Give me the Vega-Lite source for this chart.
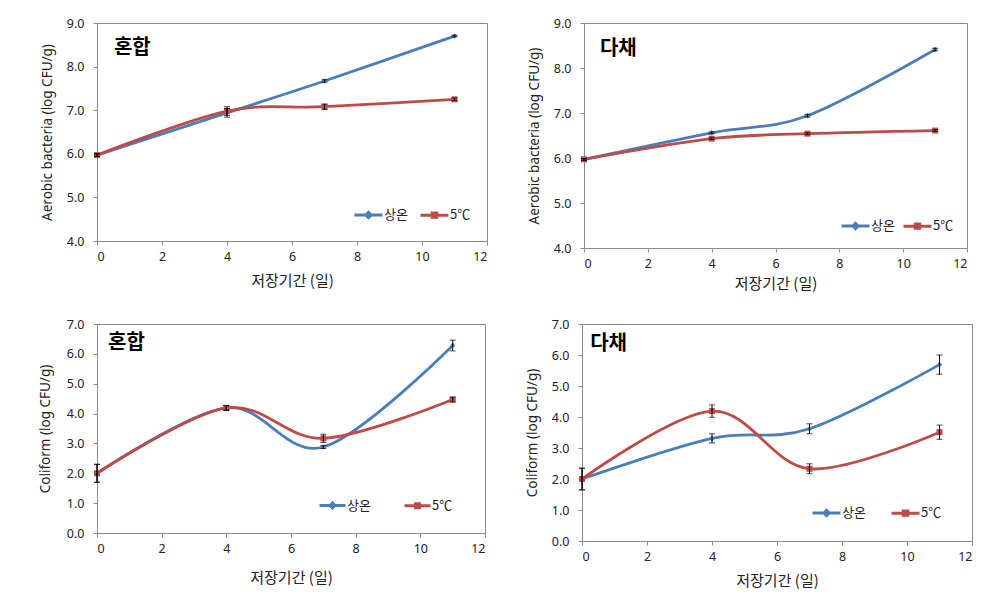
{
  "$schema": "https://vega.github.io/schema/vega-lite/v6.json",
  "background": "white",
  "padding": {"left": 37, "top": 16, "right": 5, "bottom": 5},
  "config": {
    "font": "Noto Sans",
    "view": {"stroke": "#8a8a8a", "strokeWidth": 1},
    "axis": {
      "grid": false,
      "domainColor": "#8a8a8a",
      "tickColor": "#8a8a8a",
      "tickSize": 4,
      "labelFont": "Noto Sans",
      "labelFontSize": 12.5,
      "labelColor": "#222222",
      "labelOverlap": false,
      "titleFont": "Noto Sans CJK KR",
      "titleFontWeight": "normal",
      "titleColor": "#222222"
    },
    "axisX": {"labelPadding": 5},
    "axisY": {"labelPadding": 9},
    "legend": {"labelFont": "Noto Sans CJK KR", "labelFontSize": 13, "labelColor": "#222222"}
  },
  "datasets": {
    "d": [
      {"p": "A", "series": "상온", "day": 0, "v": 5.97, "err": 0.03},
      {"p": "A", "series": "상온", "day": 4, "v": 6.94, "err": 0.1},
      {"p": "A", "series": "상온", "day": 7, "v": 7.67, "err": 0.03},
      {"p": "A", "series": "상온", "day": 11, "v": 8.7, "err": 0.02},
      {"p": "A", "series": "5℃", "day": 0, "v": 5.97, "err": 0.03},
      {"p": "A", "series": "5℃", "day": 4, "v": 6.98, "err": 0.1},
      {"p": "A", "series": "5℃", "day": 7, "v": 7.08, "err": 0.06},
      {"p": "A", "series": "5℃", "day": 11, "v": 7.25, "err": 0.03},
      {"p": "B", "series": "상온", "day": 0, "v": 5.97, "err": 0.02},
      {"p": "B", "series": "상온", "day": 4, "v": 6.56, "err": 0.02},
      {"p": "B", "series": "상온", "day": 7, "v": 6.94, "err": 0.03},
      {"p": "B", "series": "상온", "day": 11, "v": 8.41, "err": 0.03},
      {"p": "B", "series": "5℃", "day": 0, "v": 5.97, "err": 0.02},
      {"p": "B", "series": "5℃", "day": 4, "v": 6.43, "err": 0.02},
      {"p": "B", "series": "5℃", "day": 7, "v": 6.54, "err": 0.02},
      {"p": "B", "series": "5℃", "day": 11, "v": 6.61, "err": 0.02},
      {"p": "C", "series": "상온", "day": 0, "v": 2.0, "err": 0.3},
      {"p": "C", "series": "상온", "day": 4, "v": 4.19, "err": 0.08},
      {"p": "C", "series": "상온", "day": 7, "v": 2.88, "err": 0.05},
      {"p": "C", "series": "상온", "day": 11, "v": 6.28, "err": 0.18},
      {"p": "C", "series": "5℃", "day": 0, "v": 2.0, "err": 0.3},
      {"p": "C", "series": "5℃", "day": 4, "v": 4.19, "err": 0.08},
      {"p": "C", "series": "5℃", "day": 7, "v": 3.17, "err": 0.14},
      {"p": "C", "series": "5℃", "day": 11, "v": 4.47, "err": 0.08},
      {"p": "D", "series": "상온", "day": 0, "v": 2.0, "err": 0.35},
      {"p": "D", "series": "상온", "day": 4, "v": 3.31, "err": 0.15},
      {"p": "D", "series": "상온", "day": 7, "v": 3.62, "err": 0.16},
      {"p": "D", "series": "상온", "day": 11, "v": 5.69, "err": 0.31},
      {"p": "D", "series": "5℃", "day": 0, "v": 2.0, "err": 0.35},
      {"p": "D", "series": "5℃", "day": 4, "v": 4.19, "err": 0.2},
      {"p": "D", "series": "5℃", "day": 7, "v": 2.33, "err": 0.16},
      {"p": "D", "series": "5℃", "day": 11, "v": 3.51, "err": 0.23}
    ]
  },
  "resolve": {"scale": {"color": "independent"}, "legend": {"color": "independent"}},
  "spacing": 25,
  "vconcat": [
    {
      "spacing": 38,
      "resolve": {"scale": {"color": "independent"}, "legend": {"color": "independent"}},
      "hconcat": [
        {
          "width": 390, "height": 218,
          "data": {"name": "d"},
          "transform": [{"filter": "datum.p === 'A'"}],
          "layer": [
            {
              "mark": {"type": "line", "interpolate": "cardinal", "strokeWidth": 2.8},
              "encoding": {
                "x": {"field": "day", "type": "quantitative", "title": "저장기간 (일)", "scale": {"domain": [0, 12], "nice": false}, "axis": {"values": [0, 2, 4, 6, 8, 10, 12], "titleFontSize": 15, "titlePadding": 11}},
                "y": {"field": "v", "type": "quantitative", "title": "Aerobic bacteria (log CFU/g)", "scale": {"domain": [4, 9], "nice": false, "zero": false}, "axis": {"values": [4, 5, 6, 7, 8, 9], "format": ".1f", "titleFont": "Noto Sans", "titleFontSize": 13.5, "titlePadding": 12}},
                "color": {"field": "series", "type": "nominal", "scale": {"domain": ["상온", "5℃"], "range": ["#4A7EBB", "#BE4B48"]},
                  "legend": {"title": null, "orient": "none", "legendX": 256, "legendY": 176, "direction": "horizontal", "columnPadding": 6, "labelOffset": 0,
                    "encode": {"symbols": {"update": {
                      "shape": {"signal": "datum.value === '상온' ? 'M-1,0H1M-0.18,0L0,-0.18L0.18,0L0,0.18Z' : 'M-1,0H1M-0.16,-0.16H0.16V0.16H-0.16Z'"},
                      "fill": {"signal": "datum.value === '상온' ? '#4A7EBB' : '#BE4B48'"},
                      "stroke": {"signal": "datum.value === '상온' ? '#4A7EBB' : '#BE4B48'"},
                      "strokeWidth": {"value": 3}, "size": {"value": 784}, "opacity": {"value": 1}}}}}}
              }
            },
            {
              "transform": [{"filter": "datum.series === '상온'"}],
              "mark": {"type": "point", "shape": "diamond", "filled": true, "size": 30, "color": "#4A7EBB", "opacity": 1},
              "encoding": {
                "x": {"field": "day", "type": "quantitative", "title": "저장기간 (일)", "scale": {"domain": [0, 12], "nice": false}, "axis": {"values": [0, 2, 4, 6, 8, 10, 12], "titleFontSize": 15, "titlePadding": 11}},
                "y": {"field": "v", "type": "quantitative", "title": "Aerobic bacteria (log CFU/g)", "scale": {"domain": [4, 9], "nice": false, "zero": false}, "axis": {"values": [4, 5, 6, 7, 8, 9], "format": ".1f", "titleFont": "Noto Sans", "titleFontSize": 13.5, "titlePadding": 12}}
              }
            },
            {
              "transform": [{"filter": "datum.series === '5℃'"}],
              "mark": {"type": "square", "size": 36, "color": "#BE4B48", "opacity": 1},
              "encoding": {
                "x": {"field": "day", "type": "quantitative", "title": "저장기간 (일)", "scale": {"domain": [0, 12], "nice": false}, "axis": {"values": [0, 2, 4, 6, 8, 10, 12], "titleFontSize": 15, "titlePadding": 11}},
                "y": {"field": "v", "type": "quantitative", "title": "Aerobic bacteria (log CFU/g)", "scale": {"domain": [4, 9], "nice": false, "zero": false}, "axis": {"values": [4, 5, 6, 7, 8, 9], "format": ".1f", "titleFont": "Noto Sans", "titleFontSize": 13.5, "titlePadding": 12}}
              }
            },
            {
              "mark": {"type": "errorbar", "ticks": {"size": 6, "color": "#000000"}, "color": "#000000", "thickness": 1},
              "encoding": {
                "x": {"field": "day", "type": "quantitative", "title": "저장기간 (일)", "scale": {"domain": [0, 12], "nice": false}, "axis": {"values": [0, 2, 4, 6, 8, 10, 12], "titleFontSize": 15, "titlePadding": 11}},
                "y": {"field": "v", "type": "quantitative", "title": "Aerobic bacteria (log CFU/g)", "scale": {"domain": [4, 9], "nice": false, "zero": false}, "axis": {"values": [4, 5, 6, 7, 8, 9], "format": ".1f", "titleFont": "Noto Sans", "titleFontSize": 13.5, "titlePadding": 12}},
                "yError": {"field": "err"}, "detail": {"field": "series"}
              }
            },
            {
              "data": {"values": [{"p": "A", "label": "혼합"}]},
              "mark": {"type": "text", "font": "Noto Sans CJK KR", "fontWeight": "bold", "fontSize": 20, "align": "left", "baseline": "middle", "color": "#000000"},
              "encoding": {
                "text": {"field": "label"},
                "x": {"datum": 0.52, "type": "quantitative", "title": "저장기간 (일)", "scale": {"domain": [0, 12], "nice": false}, "axis": {"values": [0, 2, 4, 6, 8, 10, 12], "titleFontSize": 15, "titlePadding": 11}},
                "y": {"datum": 8.43, "type": "quantitative", "title": "Aerobic bacteria (log CFU/g)", "scale": {"domain": [4, 9], "nice": false, "zero": false}, "axis": {"values": [4, 5, 6, 7, 8, 9], "format": ".1f", "titleFont": "Noto Sans", "titleFontSize": 13.5, "titlePadding": 12}}
              }
            }
          ]
        },
        {
          "width": 383, "height": 225,
          "data": {"name": "d"},
          "transform": [{"filter": "datum.p === 'B'"}],
          "layer": [
            {
              "mark": {"type": "line", "interpolate": "cardinal", "strokeWidth": 2.8},
              "encoding": {
                "x": {"field": "day", "type": "quantitative", "title": "저장기간 (일)", "scale": {"domain": [0, 12], "nice": false}, "axis": {"values": [0, 2, 4, 6, 8, 10, 12], "titleFontSize": 15, "titlePadding": 7}},
                "y": {"field": "v", "type": "quantitative", "title": "Aerobic bacteria (log CFU/g)", "scale": {"domain": [4, 9], "nice": false, "zero": false}, "axis": {"values": [4, 5, 6, 7, 8, 9], "format": ".1f", "titleFont": "Noto Sans", "titleFontSize": 13.5, "titlePadding": 12}},
                "color": {"field": "series", "type": "nominal", "scale": {"domain": ["상온", "5℃"], "range": ["#4A7EBB", "#BE4B48"]},
                  "legend": {"title": null, "orient": "none", "legendX": 256, "legendY": 187, "direction": "horizontal", "columnPadding": 2, "labelOffset": 0,
                    "encode": {"symbols": {"update": {
                      "shape": {"signal": "datum.value === '상온' ? 'M-1,0H1M-0.18,0L0,-0.18L0.18,0L0,0.18Z' : 'M-1,0H1M-0.16,-0.16H0.16V0.16H-0.16Z'"},
                      "fill": {"signal": "datum.value === '상온' ? '#4A7EBB' : '#BE4B48'"},
                      "stroke": {"signal": "datum.value === '상온' ? '#4A7EBB' : '#BE4B48'"},
                      "strokeWidth": {"value": 3}, "size": {"value": 784}, "opacity": {"value": 1}}}}}}
              }
            },
            {
              "transform": [{"filter": "datum.series === '상온'"}],
              "mark": {"type": "point", "shape": "diamond", "filled": true, "size": 30, "color": "#4A7EBB", "opacity": 1},
              "encoding": {
                "x": {"field": "day", "type": "quantitative", "title": "저장기간 (일)", "scale": {"domain": [0, 12], "nice": false}, "axis": {"values": [0, 2, 4, 6, 8, 10, 12], "titleFontSize": 15, "titlePadding": 7}},
                "y": {"field": "v", "type": "quantitative", "title": "Aerobic bacteria (log CFU/g)", "scale": {"domain": [4, 9], "nice": false, "zero": false}, "axis": {"values": [4, 5, 6, 7, 8, 9], "format": ".1f", "titleFont": "Noto Sans", "titleFontSize": 13.5, "titlePadding": 12}}
              }
            },
            {
              "transform": [{"filter": "datum.series === '5℃'"}],
              "mark": {"type": "square", "size": 36, "color": "#BE4B48", "opacity": 1},
              "encoding": {
                "x": {"field": "day", "type": "quantitative", "title": "저장기간 (일)", "scale": {"domain": [0, 12], "nice": false}, "axis": {"values": [0, 2, 4, 6, 8, 10, 12], "titleFontSize": 15, "titlePadding": 7}},
                "y": {"field": "v", "type": "quantitative", "title": "Aerobic bacteria (log CFU/g)", "scale": {"domain": [4, 9], "nice": false, "zero": false}, "axis": {"values": [4, 5, 6, 7, 8, 9], "format": ".1f", "titleFont": "Noto Sans", "titleFontSize": 13.5, "titlePadding": 12}}
              }
            },
            {
              "mark": {"type": "errorbar", "ticks": {"size": 6, "color": "#000000"}, "color": "#000000", "thickness": 1},
              "encoding": {
                "x": {"field": "day", "type": "quantitative", "title": "저장기간 (일)", "scale": {"domain": [0, 12], "nice": false}, "axis": {"values": [0, 2, 4, 6, 8, 10, 12], "titleFontSize": 15, "titlePadding": 7}},
                "y": {"field": "v", "type": "quantitative", "title": "Aerobic bacteria (log CFU/g)", "scale": {"domain": [4, 9], "nice": false, "zero": false}, "axis": {"values": [4, 5, 6, 7, 8, 9], "format": ".1f", "titleFont": "Noto Sans", "titleFontSize": 13.5, "titlePadding": 12}},
                "yError": {"field": "err"}, "detail": {"field": "series"}
              }
            },
            {
              "data": {"values": [{"p": "B", "label": "다채"}]},
              "mark": {"type": "text", "font": "Noto Sans CJK KR", "fontWeight": "bold", "fontSize": 20, "align": "left", "baseline": "middle", "color": "#000000"},
              "encoding": {
                "text": {"field": "label"},
                "x": {"datum": 0.5, "type": "quantitative", "title": "저장기간 (일)", "scale": {"domain": [0, 12], "nice": false}, "axis": {"values": [0, 2, 4, 6, 8, 10, 12], "titleFontSize": 15, "titlePadding": 7}},
                "y": {"datum": 8.42, "type": "quantitative", "title": "Aerobic bacteria (log CFU/g)", "scale": {"domain": [4, 9], "nice": false, "zero": false}, "axis": {"values": [4, 5, 6, 7, 8, 9], "format": ".1f", "titleFont": "Noto Sans", "titleFontSize": 13.5, "titlePadding": 12}}
              }
            }
          ]
        }
      ]
    },
    {
      "spacing": 38,
      "resolve": {"scale": {"color": "independent"}, "legend": {"color": "independent"}},
      "hconcat": [
        {
          "width": 388, "height": 209,
          "data": {"name": "d"},
          "transform": [{"filter": "datum.p === 'C'"}],
          "layer": [
            {
              "mark": {"type": "line", "interpolate": "cardinal", "strokeWidth": 2.8},
              "encoding": {
                "x": {"field": "day", "type": "quantitative", "title": "저장기간 (일)", "scale": {"domain": [0, 12], "nice": false}, "axis": {"values": [0, 2, 4, 6, 8, 10, 12], "titleFontSize": 15, "titlePadding": 16}},
                "y": {"field": "v", "type": "quantitative", "title": "Coliform (log CFU/g)", "scale": {"domain": [0, 7], "nice": false}, "axis": {"values": [0, 1, 2, 3, 4, 5, 6, 7], "format": ".1f", "titleFont": "Noto Sans", "titleFontSize": 13.5, "titlePadding": 14}},
                "color": {"field": "series", "type": "nominal", "scale": {"domain": ["상온", "5℃"], "range": ["#4A7EBB", "#BE4B48"]},
                  "legend": {"title": null, "orient": "none", "legendX": 221, "legendY": 167, "direction": "horizontal", "columnPadding": 27, "labelOffset": 0,
                    "encode": {"symbols": {"update": {
                      "shape": {"signal": "datum.value === '상온' ? 'M-1,0H1M-0.18,0L0,-0.18L0.18,0L0,0.18Z' : 'M-1,0H1M-0.16,-0.16H0.16V0.16H-0.16Z'"},
                      "fill": {"signal": "datum.value === '상온' ? '#4A7EBB' : '#BE4B48'"},
                      "stroke": {"signal": "datum.value === '상온' ? '#4A7EBB' : '#BE4B48'"},
                      "strokeWidth": {"value": 3}, "size": {"value": 676}, "opacity": {"value": 1}}}}}}
              }
            },
            {
              "transform": [{"filter": "datum.series === '상온'"}],
              "mark": {"type": "point", "shape": "diamond", "filled": true, "size": 30, "color": "#4A7EBB", "opacity": 1},
              "encoding": {
                "x": {"field": "day", "type": "quantitative", "title": "저장기간 (일)", "scale": {"domain": [0, 12], "nice": false}, "axis": {"values": [0, 2, 4, 6, 8, 10, 12], "titleFontSize": 15, "titlePadding": 16}},
                "y": {"field": "v", "type": "quantitative", "title": "Coliform (log CFU/g)", "scale": {"domain": [0, 7], "nice": false}, "axis": {"values": [0, 1, 2, 3, 4, 5, 6, 7], "format": ".1f", "titleFont": "Noto Sans", "titleFontSize": 13.5, "titlePadding": 14}}
              }
            },
            {
              "transform": [{"filter": "datum.series === '5℃'"}],
              "mark": {"type": "square", "size": 36, "color": "#BE4B48", "opacity": 1},
              "encoding": {
                "x": {"field": "day", "type": "quantitative", "title": "저장기간 (일)", "scale": {"domain": [0, 12], "nice": false}, "axis": {"values": [0, 2, 4, 6, 8, 10, 12], "titleFontSize": 15, "titlePadding": 16}},
                "y": {"field": "v", "type": "quantitative", "title": "Coliform (log CFU/g)", "scale": {"domain": [0, 7], "nice": false}, "axis": {"values": [0, 1, 2, 3, 4, 5, 6, 7], "format": ".1f", "titleFont": "Noto Sans", "titleFontSize": 13.5, "titlePadding": 14}}
              }
            },
            {
              "mark": {"type": "errorbar", "ticks": {"size": 6, "color": "#000000"}, "color": "#000000", "thickness": 1},
              "encoding": {
                "x": {"field": "day", "type": "quantitative", "title": "저장기간 (일)", "scale": {"domain": [0, 12], "nice": false}, "axis": {"values": [0, 2, 4, 6, 8, 10, 12], "titleFontSize": 15, "titlePadding": 16}},
                "y": {"field": "v", "type": "quantitative", "title": "Coliform (log CFU/g)", "scale": {"domain": [0, 7], "nice": false}, "axis": {"values": [0, 1, 2, 3, 4, 5, 6, 7], "format": ".1f", "titleFont": "Noto Sans", "titleFontSize": 13.5, "titlePadding": 14}},
                "yError": {"field": "err"}, "detail": {"field": "series"}
              }
            },
            {
              "data": {"values": [{"p": "C", "label": "혼합"}]},
              "mark": {"type": "text", "font": "Noto Sans CJK KR", "fontWeight": "bold", "fontSize": 20, "align": "left", "baseline": "middle", "color": "#000000"},
              "encoding": {
                "text": {"field": "label"},
                "x": {"datum": 0.34, "type": "quantitative", "title": "저장기간 (일)", "scale": {"domain": [0, 12], "nice": false}, "axis": {"values": [0, 2, 4, 6, 8, 10, 12], "titleFontSize": 15, "titlePadding": 16}},
                "y": {"datum": 6.36, "type": "quantitative", "title": "Coliform (log CFU/g)", "scale": {"domain": [0, 7], "nice": false}, "axis": {"values": [0, 1, 2, 3, 4, 5, 6, 7], "format": ".1f", "titleFont": "Noto Sans", "titleFontSize": 13.5, "titlePadding": 14}}
              }
            }
          ]
        },
        {
          "width": 390, "height": 217,
          "data": {"name": "d"},
          "transform": [{"filter": "datum.p === 'D'"}],
          "layer": [
            {
              "mark": {"type": "line", "interpolate": "cardinal", "strokeWidth": 2.8},
              "encoding": {
                "x": {"field": "day", "type": "quantitative", "title": "저장기간 (일)", "scale": {"domain": [0, 12], "nice": false}, "axis": {"values": [0, 2, 4, 6, 8, 10, 12], "titleFontSize": 15, "titlePadding": 11}},
                "y": {"field": "v", "type": "quantitative", "title": "Coliform (log CFU/g)", "scale": {"domain": [0, 7], "nice": false}, "axis": {"values": [0, 1, 2, 3, 4, 5, 6, 7], "format": ".1f", "titleFont": "Noto Sans", "titleFontSize": 13.5, "titlePadding": 12}},
                "color": {"field": "series", "type": "nominal", "scale": {"domain": ["상온", "5℃"], "range": ["#4A7EBB", "#BE4B48"]},
                  "legend": {"title": null, "orient": "none", "legendX": 229, "legendY": 173, "direction": "horizontal", "columnPadding": 19, "labelOffset": 0,
                    "encode": {"symbols": {"update": {
                      "shape": {"signal": "datum.value === '상온' ? 'M-1,0H1M-0.18,0L0,-0.18L0.18,0L0,0.18Z' : 'M-1,0H1M-0.16,-0.16H0.16V0.16H-0.16Z'"},
                      "fill": {"signal": "datum.value === '상온' ? '#4A7EBB' : '#BE4B48'"},
                      "stroke": {"signal": "datum.value === '상온' ? '#4A7EBB' : '#BE4B48'"},
                      "strokeWidth": {"value": 3}, "size": {"value": 784}, "opacity": {"value": 1}}}}}}
              }
            },
            {
              "transform": [{"filter": "datum.series === '상온'"}],
              "mark": {"type": "point", "shape": "diamond", "filled": true, "size": 30, "color": "#4A7EBB", "opacity": 1},
              "encoding": {
                "x": {"field": "day", "type": "quantitative", "title": "저장기간 (일)", "scale": {"domain": [0, 12], "nice": false}, "axis": {"values": [0, 2, 4, 6, 8, 10, 12], "titleFontSize": 15, "titlePadding": 11}},
                "y": {"field": "v", "type": "quantitative", "title": "Coliform (log CFU/g)", "scale": {"domain": [0, 7], "nice": false}, "axis": {"values": [0, 1, 2, 3, 4, 5, 6, 7], "format": ".1f", "titleFont": "Noto Sans", "titleFontSize": 13.5, "titlePadding": 12}}
              }
            },
            {
              "transform": [{"filter": "datum.series === '5℃'"}],
              "mark": {"type": "square", "size": 36, "color": "#BE4B48", "opacity": 1},
              "encoding": {
                "x": {"field": "day", "type": "quantitative", "title": "저장기간 (일)", "scale": {"domain": [0, 12], "nice": false}, "axis": {"values": [0, 2, 4, 6, 8, 10, 12], "titleFontSize": 15, "titlePadding": 11}},
                "y": {"field": "v", "type": "quantitative", "title": "Coliform (log CFU/g)", "scale": {"domain": [0, 7], "nice": false}, "axis": {"values": [0, 1, 2, 3, 4, 5, 6, 7], "format": ".1f", "titleFont": "Noto Sans", "titleFontSize": 13.5, "titlePadding": 12}}
              }
            },
            {
              "mark": {"type": "errorbar", "ticks": {"size": 6, "color": "#000000"}, "color": "#000000", "thickness": 1},
              "encoding": {
                "x": {"field": "day", "type": "quantitative", "title": "저장기간 (일)", "scale": {"domain": [0, 12], "nice": false}, "axis": {"values": [0, 2, 4, 6, 8, 10, 12], "titleFontSize": 15, "titlePadding": 11}},
                "y": {"field": "v", "type": "quantitative", "title": "Coliform (log CFU/g)", "scale": {"domain": [0, 7], "nice": false}, "axis": {"values": [0, 1, 2, 3, 4, 5, 6, 7], "format": ".1f", "titleFont": "Noto Sans", "titleFontSize": 13.5, "titlePadding": 12}},
                "yError": {"field": "err"}, "detail": {"field": "series"}
              }
            },
            {
              "data": {"values": [{"p": "D", "label": "다채"}]},
              "mark": {"type": "text", "font": "Noto Sans CJK KR", "fontWeight": "bold", "fontSize": 20, "align": "left", "baseline": "middle", "color": "#000000"},
              "encoding": {
                "text": {"field": "label"},
                "x": {"datum": 0.25, "type": "quantitative", "title": "저장기간 (일)", "scale": {"domain": [0, 12], "nice": false}, "axis": {"values": [0, 2, 4, 6, 8, 10, 12], "titleFontSize": 15, "titlePadding": 11}},
                "y": {"datum": 6.35, "type": "quantitative", "title": "Coliform (log CFU/g)", "scale": {"domain": [0, 7], "nice": false}, "axis": {"values": [0, 1, 2, 3, 4, 5, 6, 7], "format": ".1f", "titleFont": "Noto Sans", "titleFontSize": 13.5, "titlePadding": 12}}
              }
            }
          ]
        }
      ]
    }
  ]
}
